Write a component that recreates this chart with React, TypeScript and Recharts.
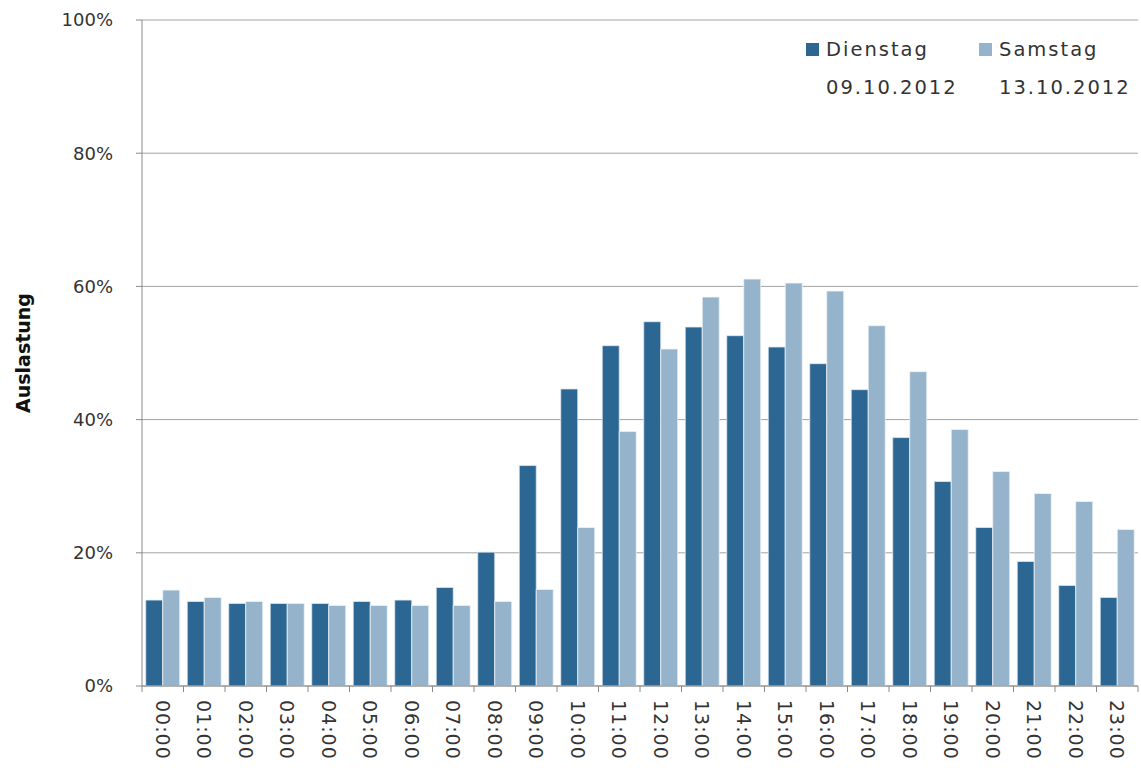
import { Bar, BarChart, CartesianGrid, XAxis, YAxis } from "recharts";

const hours = [
  "00:00", "01:00", "02:00", "03:00", "04:00", "05:00", "06:00", "07:00",
  "08:00", "09:00", "10:00", "11:00", "12:00", "13:00", "14:00", "15:00",
  "16:00", "17:00", "18:00", "19:00", "20:00", "21:00", "22:00", "23:00",
];

// Auslastung in %
const dienstag = [
  12.9, 12.7, 12.4, 12.4, 12.4, 12.7, 12.9, 14.8, 20.1, 33.1, 44.6, 51.1,
  54.7, 53.9, 52.6, 50.9, 48.4, 44.5, 37.3, 30.7, 23.8, 18.7, 15.1, 13.3,
];
const samstag = [
  14.4, 13.3, 12.7, 12.4, 12.1, 12.1, 12.1, 12.1, 12.7, 14.5, 23.8, 38.2,
  50.6, 58.4, 61.1, 60.5, 59.3, 54.1, 47.2, 38.5, 32.2, 28.9, 27.7, 23.5,
];

const seriesDays = ["Dienstag", "Samstag"];
const seriesDates = ["09.10.2012", "13.10.2012"];
const yTicks = [0, 20, 40, 60, 80, 100];

const W = 1141;
const H = 773;
const Y_AXIS_W = 142;
const MARGIN_RIGHT = 3;
const BAND = (W - Y_AXIS_W - MARGIN_RIGHT) / hours.length;

const DARK = "#2c6794";
const LIGHT = "#95b3ca";
const AXIS = "#8a8a8a";
const GRID = "#a3a3a3";
const TEXT = "#333333";
const FONT = "'DejaVu Sans', sans-serif";

const data = hours.map((h, i) => ({
  hour: h,
  dienstag: dienstag[i],
  samstag: samstag[i],
}));

function HourTick(props: any) {
  const { x, y, payload, index } = props;
  const left = x - BAND / 2;
  return (
    <g>
      <line x1={left} y1={y} x2={left} y2={y + 6} stroke={AXIS} />
      {index === hours.length - 1 && (
        <line x1={left + BAND} y1={y} x2={left + BAND} y2={y + 6} stroke={AXIS} />
      )}
      <text
        x={x}
        y={y + 14}
        transform={`rotate(90 ${x} ${y + 14})`}
        dominantBaseline="central"
        textAnchor="start"
        fill={TEXT}
        fontSize={19}
        fontFamily={FONT}
        letterSpacing={1}
      >
        {payload.value}
      </text>
    </g>
  );
}

function YTitle(props: any) {
  const vb = props.viewBox;
  const cx = vb.x + 23;
  const cy = vb.y + vb.height / 2;
  return (
    <text
      x={cx}
      y={cy}
      transform={`rotate(-90 ${cx} ${cy})`}
      textAnchor="middle"
      dominantBaseline="central"
      fontWeight="bold"
      fontSize={19}
      fontFamily={FONT}
      fill="#111"
    >
      Auslastung
    </text>
  );
}

function LegendBox() {
  const colors = [DARK, LIGHT];
  const widths = [173, 160];
  return (
    <div
      style={{
        position: "absolute",
        top: 31,
        left: 806,
        display: "flex",
        fontFamily: FONT,
        fontSize: 19.5,
        letterSpacing: 2,
        color: TEXT,
        lineHeight: "38px",
      }}
    >
      {seriesDays.map((d, i) => (
        <div key={d} style={{ display: "flex", width: widths[i] }}>
          <div style={{ width: 13, height: 13, background: colors[i], marginTop: 12, marginRight: 7 }} />
          <div>
            <div>{d}</div>
            <div>{seriesDates[i]}</div>
          </div>
        </div>
      ))}
    </div>
  );
}

export default function App() {
  return (
    <div style={{ position: "fixed", top: 0, left: 0, width: W, height: H, background: "#fff" }}>
      <BarChart
        width={W}
        height={H}
        data={data}
        margin={{ top: 20, right: MARGIN_RIGHT, left: 0, bottom: 0 }}
        barCategoryGap="9%"
        barGap={0}
      >
        <CartesianGrid stroke={GRID} vertical={false} />
        <XAxis
          dataKey="hour"
          height={87}
          interval={0}
          axisLine={{ stroke: AXIS }}
          tickLine={false}
          tickSize={0}
          tickMargin={0}
          tick={<HourTick />}
        />
        <YAxis
          width={Y_AXIS_W}
          domain={[0, 100]}
          ticks={yTicks}
          tickFormatter={(v) => `${v}%`}
          axisLine={{ stroke: AXIS }}
          tickLine={{ stroke: AXIS }}
          tickSize={6}
          tickMargin={23}
          tick={{ fill: TEXT, fontSize: 18, fontFamily: FONT }}
          label={<YTitle />}
        />
        <Bar dataKey="dienstag" name={seriesDays[0]} fill={DARK} stroke="#dfe8f0" strokeWidth={0.8} isAnimationActive={false} />
        <Bar dataKey="samstag" name={seriesDays[1]} fill={LIGHT} stroke="#eef3f7" strokeWidth={0.8} isAnimationActive={false} />
      </BarChart>
      <LegendBox />
    </div>
  );
}
